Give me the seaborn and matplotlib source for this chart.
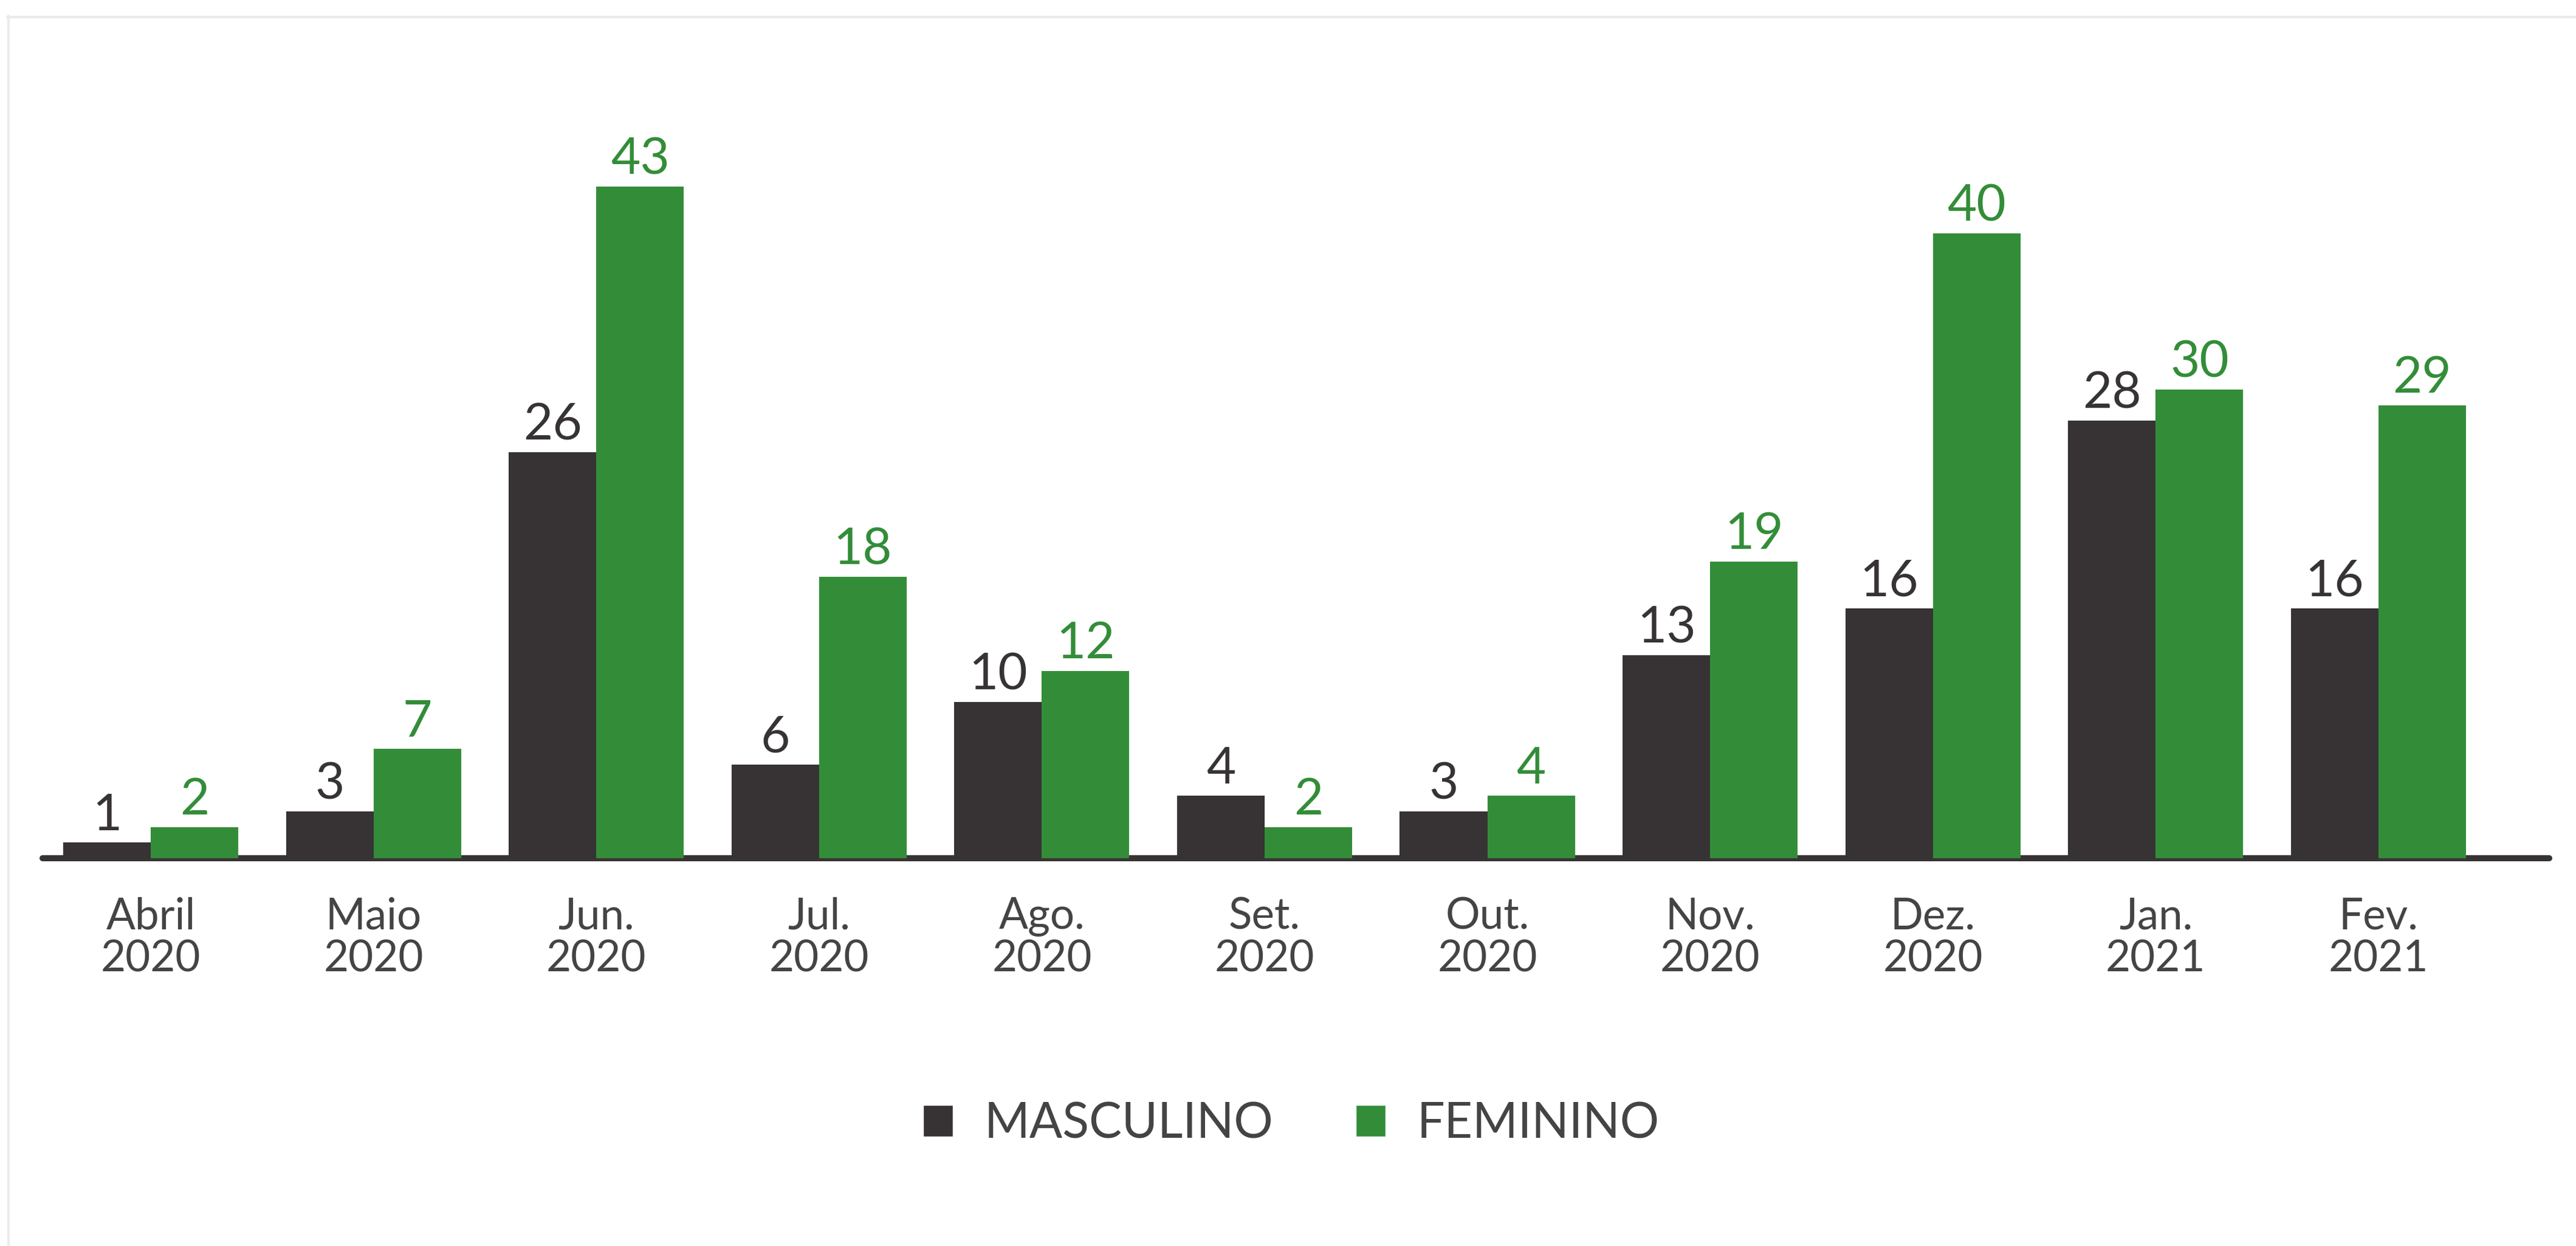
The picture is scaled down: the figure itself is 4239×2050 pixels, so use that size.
import pandas as pd
import seaborn as sns
import matplotlib.pyplot as plt
from matplotlib.lines import Line2D
from matplotlib.patches import Patch

meses = ["Abril\n2020", "Maio\n2020", "Jun.\n2020", "Jul.\n2020", "Ago.\n2020",
         "Set.\n2020", "Out.\n2020", "Nov.\n2020", "Dez.\n2020", "Jan.\n2021", "Fev.\n2021"]
masculino = [1, 3, 26, 6, 10, 4, 3, 13, 16, 28, 16]
feminino = [2, 7, 43, 18, 12, 2, 4, 19, 40, 30, 29]
series = ["MASCULINO", "FEMININO"]

dark = "#373334"
green = "#338D38"
texto = "#444444"

df = pd.DataFrame({
    "mes": meses * 2,
    "sexo": [series[0]] * len(meses) + [series[1]] * len(meses),
    "valor": masculino + feminino,
})

sns.set_theme(style="white")
plt.rcParams["font.family"] = ["Lato", "DejaVu Sans"]

fig = plt.figure(figsize=(42.39, 20.5), dpi=100)
ax = fig.add_axes([0.01651, 0.3112, 0.97311, 0.64])

sns.barplot(data=df, x="mes", y="valor", hue="sexo", palette=[dark, green],
            width=0.786, saturation=1, ax=ax, legend=False, zorder=2,
            linewidth=0, edgecolor="none")

ax.set_xlim(-0.486, 10.767)
ax.set_ylim(0, 51.05)
ax.axhline(0, color=dark, lw=7.2, zorder=1, clip_on=False)

for cont, cor in zip(ax.containers, [dark, green]):
    ax.bar_label(cont, labels=[str(int(v)) for v in cont.datavalues],
                 padding=4, fontsize=60, color=cor)

ax.set_xlabel("")
ax.set_ylabel("")
ax.set_yticks([])
ax.tick_params(axis="x", length=0, pad=46, labelsize=51, labelcolor=texto)
for lab in ax.get_xticklabels():
    lab.set_linespacing(1.09)
for s in ax.spines.values():
    s.set_visible(False)

handles = [Patch(facecolor=dark), Patch(facecolor=green)]
leg = fig.legend(handles, series, loc="center", bbox_to_anchor=(0.5013, 0.0978),
                 ncol=2, frameon=False, fontsize=58, handlelength=0.61, handleheight=0.61,
                 handletextpad=0.64, columnspacing=1.68)
for t in leg.get_texts():
    t.set_color(texto)

# moldura cinza clara (topo e esquerda)
fig.add_artist(Line2D([12 / 4239, 1], [1 - 28 / 2050, 1 - 28 / 2050],
                      color="#ebebeb", lw=3, transform=fig.transFigure))
fig.add_artist(Line2D([14 / 4239, 14 / 4239], [0, 1 - 26 / 2050],
                      color="#ebebeb", lw=3, transform=fig.transFigure))

fig.savefig("out.png", dpi=100, facecolor="white")
